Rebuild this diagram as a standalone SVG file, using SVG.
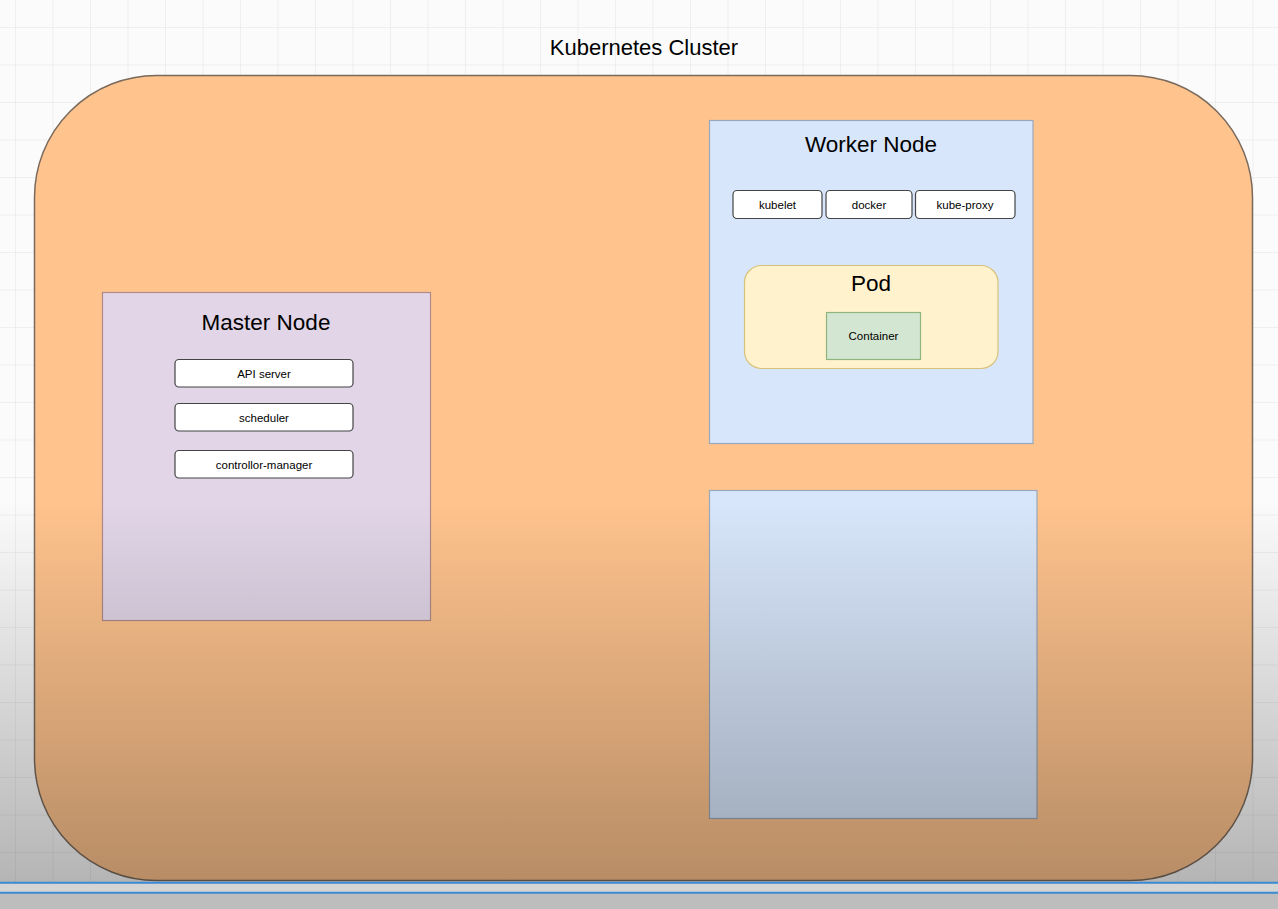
<svg xmlns="http://www.w3.org/2000/svg" width="1278" height="909" viewBox="0 0 1278 909">
<style>
.t{font-family:"Liberation Sans",Arial,sans-serif;fill:#000;text-anchor:middle}
.big{font-size:22.5px}
.sm{font-size:11.5px}
.box{fill:#fff;stroke:#444;stroke-width:1.2}
</style>
<defs>
<pattern id="grid" width="37.5" height="37.5" patternUnits="userSpaceOnUse" x="15" y="27">
<path d="M0 0H37.5M0 0V37.5" fill="none" stroke="#e3e3e3" stroke-width="1"/>
</pattern>
<linearGradient id="shade" x1="0" y1="0" x2="0" y2="909" gradientUnits="userSpaceOnUse">
<stop offset="0" stop-color="#000" stop-opacity="0"/>
<stop offset="0.55" stop-color="#000" stop-opacity="0"/>
<stop offset="1" stop-color="#000" stop-opacity="0.3"/>
</linearGradient>
</defs>
<rect width="1278" height="909" fill="#fbfbfb"/>
<rect width="1278" height="909" fill="url(#grid)"/>
<g id="cluster">
<rect x="34.5" y="75.5" width="1218" height="805" rx="122" fill="#FFC38D" stroke="#7a6a5c" stroke-width="1.5"/>
<text class="t" x="644" y="55" font-size="22">Kubernetes Cluster</text>
</g>
<g id="master-node">
<rect x="102.5" y="292.5" width="328" height="328" fill="#E1D5E7" stroke="#b08a8a" stroke-width="1.2"/>
<text class="t big" x="266" y="330">Master Node</text>
<rect class="box" x="175" y="359.5" width="178" height="27.5" rx="4"/>
<text class="t sm" x="264" y="377.5">API server</text>
<rect class="box" x="175" y="403.5" width="178" height="27.5" rx="4"/>
<text class="t sm" x="264" y="421.5">scheduler</text>
<rect class="box" x="175" y="450.5" width="178" height="27.5" rx="4"/>
<text class="t sm" x="264" y="468.5">controllor-manager</text>
</g>
<g id="worker-node-1">
<rect x="709.5" y="120.5" width="323.5" height="323" fill="#D8E6FB" stroke="#9aa8bb" stroke-width="1.2"/>
<text class="t big" x="871" y="152">Worker Node</text>
<rect class="box" x="733" y="190.5" width="89" height="28" rx="4"/>
<text class="t sm" x="777.5" y="208.5">kubelet</text>
<rect class="box" x="826" y="190.5" width="86" height="28" rx="4"/>
<text class="t sm" x="869" y="208.5">docker</text>
<rect class="box" x="915.5" y="190.5" width="99.5" height="28" rx="4"/>
<text class="t sm" x="965" y="208.5">kube-proxy</text>
</g>
<g id="pod">
<rect x="744.5" y="265.5" width="253.5" height="103" rx="17" fill="#FFF2CC" stroke="#d8c27a" stroke-width="1.2"/>
<text class="t big" x="871" y="291">Pod</text>
</g>
<g id="container">
<rect x="826.5" y="312.5" width="94" height="47" fill="#D3E6D1" stroke="#8fb57e" stroke-width="1.2"/>
<text class="t sm" x="873.5" y="340">Container</text>
</g>
<g id="worker-node-2">
<rect x="709.5" y="490.5" width="327.5" height="328" fill="#D8E6FB" stroke="#9aa8bb" stroke-width="1.2"/>
</g>
<g id="connectors"></g>
<rect width="1278" height="909" fill="url(#shade)"/>
<rect x="0" y="883" width="1278" height="10" fill="#d4d4d4"/>
<rect x="0" y="893" width="1278" height="16" fill="#bdbdbd"/>
<line x1="0" y1="882.7" x2="1278" y2="882.7" stroke="#3a8ad4" stroke-width="2"/>
<line x1="0" y1="892.7" x2="1278" y2="892.7" stroke="#3a8ad4" stroke-width="2"/>
</svg>
